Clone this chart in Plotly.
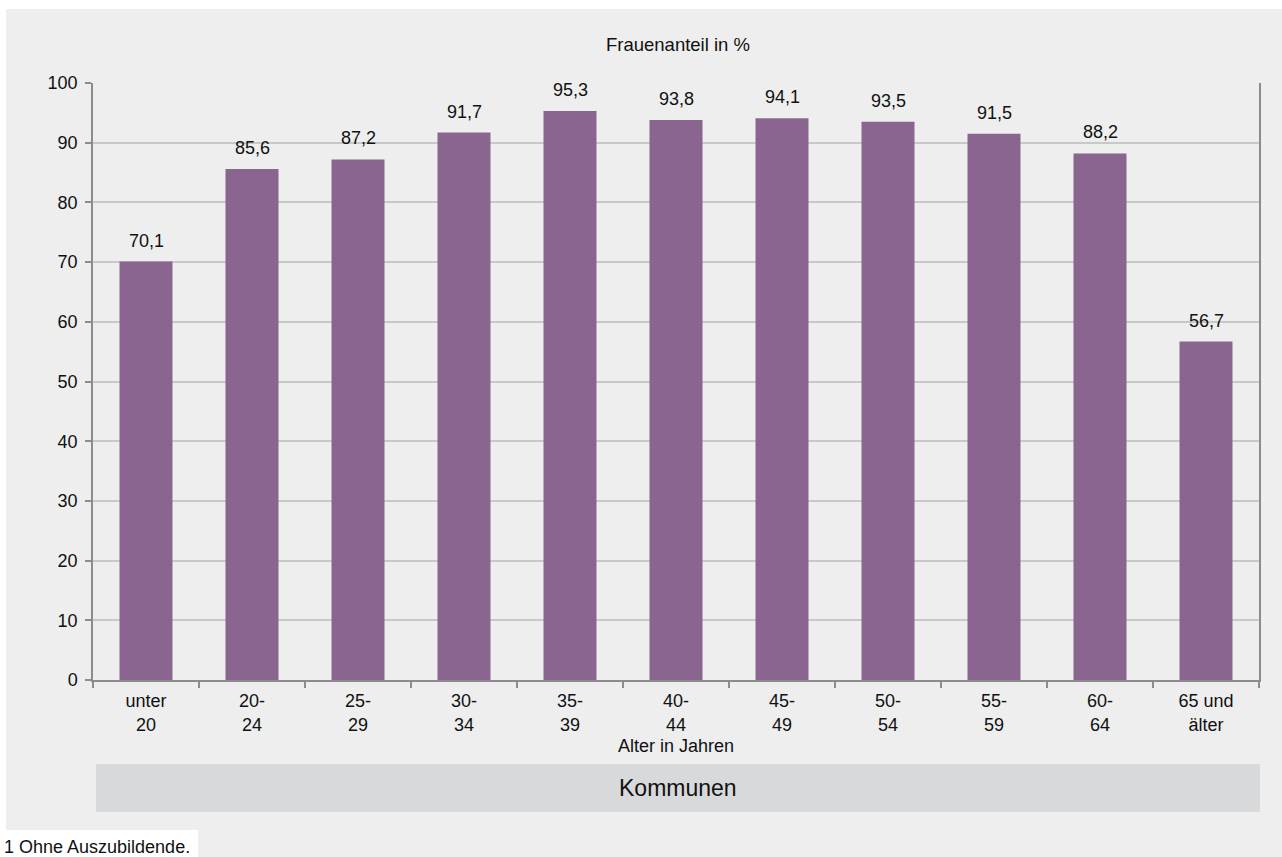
import plotly.graph_objects as go

categories = ["unter<br>20", "20-<br>24", "25-<br>29", "30-<br>34", "35-<br>39", "40-<br>44",
              "45-<br>49", "50-<br>54", "55-<br>59", "60-<br>64", "65 und<br>älter"]
values = [70.1, 85.6, 87.2, 91.7, 95.3, 93.8, 94.1, 93.5, 91.5, 88.2, 56.7]
y_ticks = [0, 10, 20, 30, 40, 50, 60, 70, 80, 90, 100]

W, H = 1282, 857
L, R, T, B = 93, 23, 83, 177
PW, PH = W - L - R, H - T - B

def px(x):
    return (x - L) / PW

def py(y):
    return (T + PH - y) / PH

FONT = "Liberation Sans, Arial, sans-serif"
BG = "#EDEEED"
BAR = "#89658F"

fig = go.Figure()
fig.add_trace(go.Bar(x=categories, y=values, marker=dict(color=BAR, line=dict(width=0)),
                     hoverinfo="skip"))

annotations = []
for c, v in zip(categories, values):
    annotations.append(dict(x=c, y=v, xref="x", yref="y", text=f"{v:.1f}".replace(".", ","),
                            showarrow=False, yanchor="bottom", yshift=9,
                            font=dict(size=18, color="#111111", family=FONT)))

annotations += [
    dict(x=px(678), y=py(44), xref="paper", yref="paper", text="Frauenanteil in %",
         showarrow=False, xanchor="center", yanchor="middle",
         font=dict(size=18.5, color="#111111", family=FONT)),
    dict(x=px(676), y=py(746), xref="paper", yref="paper", text="Alter in Jahren",
         showarrow=False, xanchor="center", yanchor="middle",
         font=dict(size=18, color="#111111", family=FONT)),
    dict(x=px(678), y=py(788), xref="paper", yref="paper", text="Kommunen",
         showarrow=False, xanchor="center", yanchor="middle",
         font=dict(size=23, color="#111111", family=FONT)),
    dict(x=px(2), y=py(847), xref="paper", yref="paper", text="1 Ohne Auszubildende.",
         showarrow=False, xanchor="left", yanchor="middle",
         font=dict(size=18, color="#111111", family=FONT)),
]

shapes = [
    dict(type="rect", xref="paper", yref="paper", x0=px(6), x1=px(W + 5), y0=py(9), y1=py(H + 5),
         fillcolor=BG, line=dict(width=0), layer="below"),
    dict(type="rect", xref="paper", yref="paper", x0=px(-5), x1=px(198), y0=py(830), y1=py(H + 5),
         fillcolor="white", line=dict(width=0), layer="below"),
    dict(type="rect", xref="paper", yref="paper", x0=px(96), x1=px(1260), y0=py(764), y1=py(812),
         fillcolor="#D8D9DB", line=dict(width=0), layer="below"),
]

fig.update_layout(
    width=W, height=H,
    margin=dict(l=L, r=R, t=T, b=B, pad=0),
    paper_bgcolor="white",
    plot_bgcolor="rgba(0,0,0,0)",
    showlegend=False,
    bargap=0.5,
    font=dict(family=FONT, size=18, color="#111111"),
    annotations=annotations,
    shapes=shapes,
    xaxis=dict(
        type="category", showgrid=False, showline=True, linecolor="#8C8C8C", linewidth=1.5,
        ticks="outside", tickson="boundaries", ticklen=6, tickcolor="#8C8C8C", tickwidth=1.5,
        ticklabelstandoff=4,
        tickfont=dict(size=18, color="#111111", family=FONT),
        zeroline=False, fixedrange=True,
    ),
    yaxis=dict(
        range=[0, 100], tickvals=y_ticks, showgrid=True, gridcolor="#C8C8C8", gridwidth=1.5,
        showline=True, linecolor="#8C8C8C", linewidth=1.5, mirror=True,
        ticks="outside", ticklen=6, tickcolor="#8C8C8C", tickwidth=1.5,
        ticklabelstandoff=4,
        tickfont=dict(size=18, color="#111111", family=FONT),
        zeroline=False, fixedrange=True,
    ),
)

fig.write_html("out.html", config={"displayModeBar": False},
               post_script="document.body.style.margin='0px';document.body.style.overflow='hidden';")
